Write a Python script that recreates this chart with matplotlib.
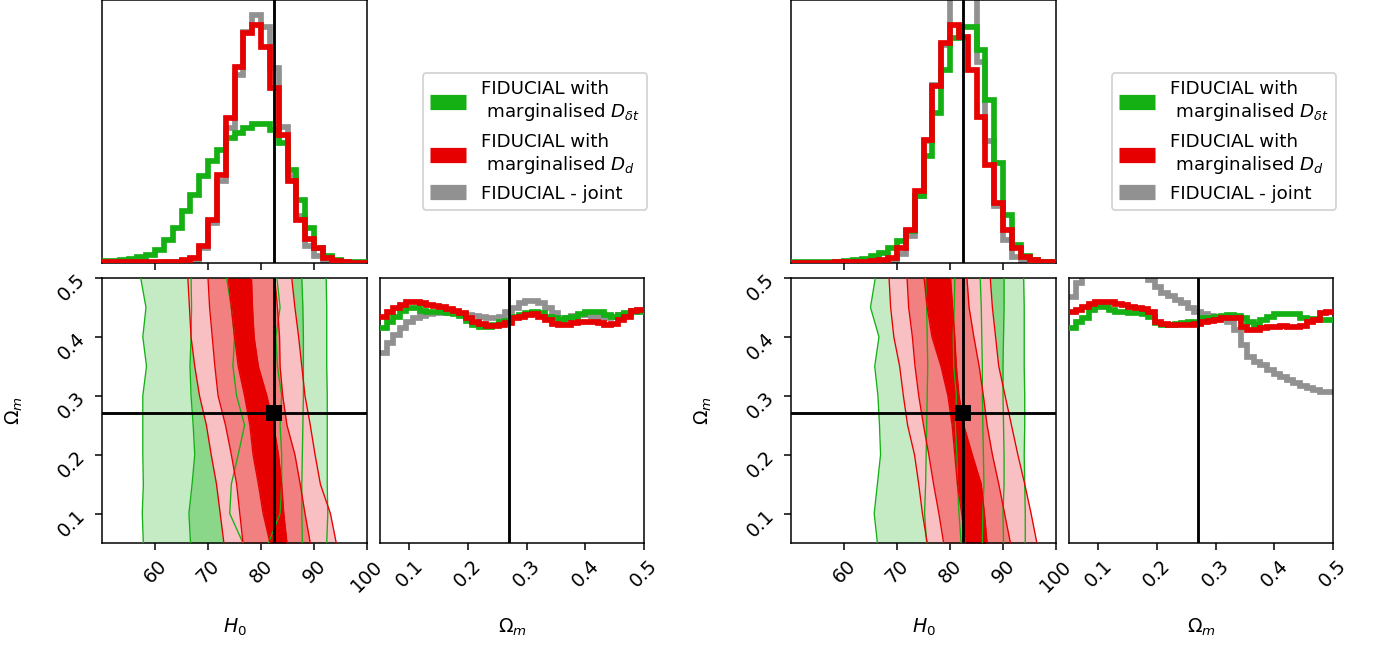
import numpy as np
import matplotlib
matplotlib.use("Agg")
import matplotlib.pyplot as plt
from matplotlib.lines import Line2D

# fiducial values
H0_TRUE = 82.4
OM_TRUE = 0.27

# binning of the marginal histograms
H0_EDGES = np.linspace(50, 100, 31)
OM_EDGES = np.linspace(0.05, 0.5, 41)

# --- left group: H0 marginals (arbitrary units) ---
L_H0_GREEN = [5, 6, 9, 12, 18, 25, 40, 70, 105, 155, 205, 260, 305, 340, 375,
              390, 405, 418, 418, 400, 360, 280, 190, 105, 45, 20, 8, 4, 2, 2]
L_H0_RED = [2, 2, 2, 2, 2, 2, 2, 3, 4, 8, 15, 50, 130, 265, 435,
            590, 692, 715, 650, 525, 385, 245, 130, 72, 45, 15, 5, 2, 1, 1]
L_H0_GRAY = [1, 1, 1, 1, 1, 1, 1, 2, 3, 5, 10, 45, 120, 245, 405,
             565, 695, 745, 710, 585, 410, 260, 140, 50, 20, 5, 2, 1, 1, 1]

# --- left group: Omega_m marginals ---
L_OM_GREEN = [646, 664, 679, 696, 704, 704, 696, 694, 692, 692, 689, 686, 682, 666,
              654, 649, 649, 654, 664, 666, 679, 684, 689, 692, 689, 679, 674, 669,
              674, 679, 686, 692, 694, 692, 684, 679, 684, 689, 696, 694]
L_OM_RED = [679, 694, 704, 714, 724, 722, 719, 714, 711, 707, 702, 696, 689, 674,
            664, 656, 652, 652, 654, 659, 674, 679, 684, 686, 679, 669, 657, 654,
            654, 659, 662, 664, 664, 659, 654, 656, 669, 679, 696, 699]
L_OM_GRAY = [569, 599, 624, 644, 664, 676, 682, 686, 689, 689, 691, 689, 686, 684,
             682, 679, 676, 676, 679, 694, 706, 719, 726, 726, 719, 704, 689, 676,
             676, 682, 684, 684, 679, 674, 674, 679, 684, 686, 694, 699]

# --- right group: H0 marginals ---
R_H0_GREEN = [2, 2, 2, 3, 3, 4, 6, 9, 12, 20, 30, 45, 65, 95, 200,
              320, 450, 580, 675, 710, 710, 640, 490, 300, 145, 55, 20, 8, 4, 2]
R_H0_RED = [1, 1, 1, 1, 1, 2, 2, 3, 4, 6, 8, 15, 45, 100, 215,
            370, 532, 662, 715, 680, 580, 440, 295, 180, 100, 45, 18, 8, 4, 2]
R_H0_GRAY = [1, 1, 1, 1, 1, 1, 1, 1, 1, 1, 3, 6, 28, 80, 200,
             365, 535, 655, 870, 940, 850, 605, 365, 170, 70, 18, 6, 2, 1, 1]

# --- right group: Omega_m marginals ---
R_OM_GREEN = [644, 664, 674, 699, 709, 707, 699, 694, 692, 691, 689, 687, 679, 659,
              654, 654, 656, 659, 662, 664, 674, 676, 679, 682, 684, 682, 674, 664,
              654, 669, 679, 686, 688, 688, 686, 676, 672, 672, 669, 669]
R_OM_RED = [692, 699, 709, 716, 724, 724, 722, 716, 714, 709, 704, 701, 694, 664,
            656, 654, 654, 654, 654, 656, 664, 666, 669, 674, 676, 674, 649, 639,
            639, 646, 649, 649, 652, 649, 649, 652, 664, 669, 689, 692]
R_OM_GRAY = [739, 779, 824, 844, 859, 869, 874, 869, 859, 844, 829, 814, 789, 769,
             749, 742, 729, 719, 704, 694, 686, 682, 679, 676, 664, 639, 594, 559,
             542, 534, 519, 506, 499, 489, 479, 472, 464, 459, 454, 454]

# credible-region boundaries in H0, sampled at these Omega_m values
OM_GRID = [0.5, 0.45, 0.4, 0.35, 0.3, 0.25, 0.2, 0.15, 0.1, 0.05]

L_GREEN_OUTER = ([57.3, 58.3, 57.7, 58.4, 57.7, 57.7, 57.7, 57.8, 57.6, 57.8],
                 [92.3, 92.4, 92.4, 92.4, 92.5, 92.5, 92.5, 92.5, 92.6, 92.4])
L_GREEN_MID = ([66.8, 66.9, 66.8, 66.6, 66.8, 67.2, 67.5, 67.0, 66.4, 66.7],
               [87.7, 87.9, 88.0, 88.0, 88.0, 87.9, 87.8, 87.7, 87.7, 87.8])
L_GREEN_INNER = ([73.5, 74.4, 75.0, 74.7, 75.4, 76.9, 75.7, 74.4, 74.1, 76.6],
                 [83.0, 83.6, 82.8, 83.1, 83.9, 83.6, 83.9, 83.9, 83.6, 81.4])
L_RED_OUTER = ([66.2, 66.5, 66.8, 67.5, 68.4, 69.7, 70.6, 71.6, 72.3, 73.0],
               [85.8, 86.4, 87.1, 87.7, 88.3, 89.3, 90.2, 91.2, 93.1, 94.2])
L_RED_MID = ([70.0, 70.3, 70.8, 71.3, 71.9, 73.3, 74.4, 75.4, 76.0, 76.6],
             [82.6, 83.1, 83.5, 83.6, 84.1, 84.9, 86.4, 87.4, 88.3, 89.3])
L_RED_INNER = ([73.8, 74.4, 75.0, 75.7, 76.9, 77.9, 78.5, 79.5, 80.4, 81.7],
               [78.2, 78.4, 78.7, 79.5, 81.1, 82.4, 83.3, 83.9, 84.3, 84.9])

R_GREEN_OUTER = ([65.9, 65.0, 66.6, 65.8, 66.4, 66.7, 66.9, 66.3, 65.7, 66.3],
                 [93.9, 94.0, 94.0, 94.0, 94.1, 94.1, 94.0, 94.1, 94.2, 94.2])
R_GREEN_MID = ([75.4, 75.6, 75.7, 75.8, 75.7, 75.6, 75.5, 75.4, 75.2, 75.6],
               [90.2, 90.2, 90.1, 90.0, 90.0, 90.1, 90.2, 90.2, 90.0, 90.1])
R_GREEN_INNER = ([80.9, 80.8, 80.6, 80.7, 81.2, 81.0, 81.3, 81.4, 81.7, 82.1],
                 [85.7, 85.9, 86.0, 86.1, 86.1, 86.2, 86.3, 86.4, 86.2, 86.1])
R_RED_OUTER = ([68.5, 68.8, 69.4, 70.5, 71.2, 72.0, 73.3, 74.1, 74.8, 75.7],
               [87.6, 88.0, 88.6, 89.2, 90.4, 91.6, 92.8, 94.1, 95.3, 96.4])
R_RED_MID = ([71.9, 72.2, 72.9, 73.4, 74.1, 75.0, 76.0, 76.9, 77.9, 78.8],
             [83.2, 83.6, 84.5, 85.5, 86.3, 87.0, 88.0, 89.2, 90.3, 91.4])
R_RED_INNER = ([75.1, 75.7, 76.6, 78.3, 79.6, 80.4, 80.9, 81.4, 82.2, 82.9],
               [80.1, 80.5, 80.9, 81.2, 81.7, 82.6, 84.2, 85.9, 86.5, 87.0])

LEGEND_LABELS = ["FIDUCIAL with\n marginalised $D_{\\delta t}$",
                 "FIDUCIAL with\n marginalised $D_d$",
                 "FIDUCIAL - joint"]

GREEN = "#14b014"
RED = "#e60000"
GRAY = "#919191"
GREEN_FILLS = ["#c5ebc5", "#8ad78a", "#4fc24f"]
RED_FILLS = ["#f8c0c3", "#f28080", "#e60000"]

W, H = 1373, 648
DPI = 137


def px_axes(fig, x0, y0, w, h):
    # pixel box (top-left origin) -> figure fraction
    return fig.add_axes([x0 / W, 1 - (y0 + h) / H, w / W, h / H])


def draw_group(fig, x0, h0_hists, om_hists, greens, reds, h0_top, om_top):
    ax_h0 = px_axes(fig, x0, 0, 265, 263)
    ax_2d = px_axes(fig, x0, 278, 265, 265)
    ax_om = px_axes(fig, x0 + 278, 278, 264, 265)

    # marginal histograms: gray under green under red
    for vals, col, z in zip(h0_hists, [GREEN, RED, GRAY], [3, 4, 2]):
        ax_h0.stairs(vals, H0_EDGES, color=col, lw=3, zorder=z, baseline=None)
    for vals, col, z in zip(om_hists, [GREEN, RED, GRAY], [3, 4, 2]):
        ax_om.stairs(vals, OM_EDGES, color=col, lw=3, zorder=z, baseline=None)

    ax_h0.axvline(H0_TRUE, color="black", lw=1.5, zorder=5)
    ax_h0.set_xlim(50, 100)
    ax_h0.set_ylim(0, h0_top)
    ax_h0.set_xticks([60, 70, 80, 90])
    ax_h0.set_xticklabels([])
    ax_h0.set_yticks([])

    ax_om.axvline(OM_TRUE, color="black", lw=1.5, zorder=5)
    ax_om.set_xlim(0.05, 0.5)
    ax_om.set_ylim(0, om_top)
    ax_om.set_xticks([0.1, 0.2, 0.3, 0.4, 0.5])
    ax_om.set_xticklabels(["0.1", "0.2", "0.3", "0.4", "0.5"])
    ax_om.set_yticks([])
    ax_om.tick_params(axis="x", labelrotation=45)
    ax_om.set_xlabel("$\\Omega_m$")
    ax_om.xaxis.set_label_coords(0.5, -0.28)

    # 2D credible regions
    for (lo, hi), col in zip(greens, GREEN_FILLS):
        ax_2d.fill_betweenx(OM_GRID, lo, hi, color=col, lw=0, zorder=1)
    for (lo, hi), col in zip(reds, RED_FILLS):
        ax_2d.fill_betweenx(OM_GRID, lo, hi, color=col, lw=0, zorder=2)
    for lo, hi in greens:
        ax_2d.plot(lo, OM_GRID, color=GREEN, lw=0.7, zorder=3)
        ax_2d.plot(hi, OM_GRID, color=GREEN, lw=0.7, zorder=3)
    for lo, hi in reds:
        ax_2d.plot(lo, OM_GRID, color=RED, lw=0.7, zorder=3)
        ax_2d.plot(hi, OM_GRID, color=RED, lw=0.7, zorder=3)

    ax_2d.axvline(H0_TRUE, color="black", lw=1.5, zorder=5)
    ax_2d.axhline(OM_TRUE, color="black", lw=1.5, zorder=5)
    ax_2d.plot([H0_TRUE], [OM_TRUE], "s", color="black", ms=7, zorder=6)
    ax_2d.set_xlim(50, 100)
    ax_2d.set_ylim(0.05, 0.5)
    ax_2d.set_xticks([60, 70, 80, 90, 100])
    ax_2d.set_yticks([0.1, 0.2, 0.3, 0.4, 0.5])
    ax_2d.set_yticklabels(["0.1", "0.2", "0.3", "0.4", "0.5"])
    ax_2d.tick_params(axis="both", labelrotation=45)
    ax_2d.set_xlabel("$H_0$")
    ax_2d.set_ylabel("$\\Omega_m$")
    ax_2d.xaxis.set_label_coords(0.5, -0.28)
    ax_2d.yaxis.set_label_coords(-0.29, 0.5)

    handles = [Line2D([], [], color=c, lw=8, solid_capstyle="butt")
               for c in (GREEN, RED, GRAY)]
    fig.legend(handles, LEGEND_LABELS, loc="center",
               bbox_to_anchor=((x0 + 433) / W, 1 - 141.5 / H), fontsize=9.6)


fig = plt.figure(figsize=(W / DPI, H / DPI), dpi=DPI)

draw_group(fig, 102, [L_H0_GREEN, L_H0_RED, L_H0_GRAY],
           [L_OM_GREEN, L_OM_RED, L_OM_GRAY],
           [L_GREEN_OUTER, L_GREEN_MID, L_GREEN_INNER],
           [L_RED_OUTER, L_RED_MID, L_RED_INNER], 790, 795)
draw_group(fig, 791, [R_H0_GREEN, R_H0_RED, R_H0_GRAY],
           [R_OM_GREEN, R_OM_RED, R_OM_GRAY],
           [R_GREEN_OUTER, R_GREEN_MID, R_GREEN_INNER],
           [R_RED_OUTER, R_RED_MID, R_RED_INNER], 790, 795)

fig.savefig("out.png", dpi=DPI)
